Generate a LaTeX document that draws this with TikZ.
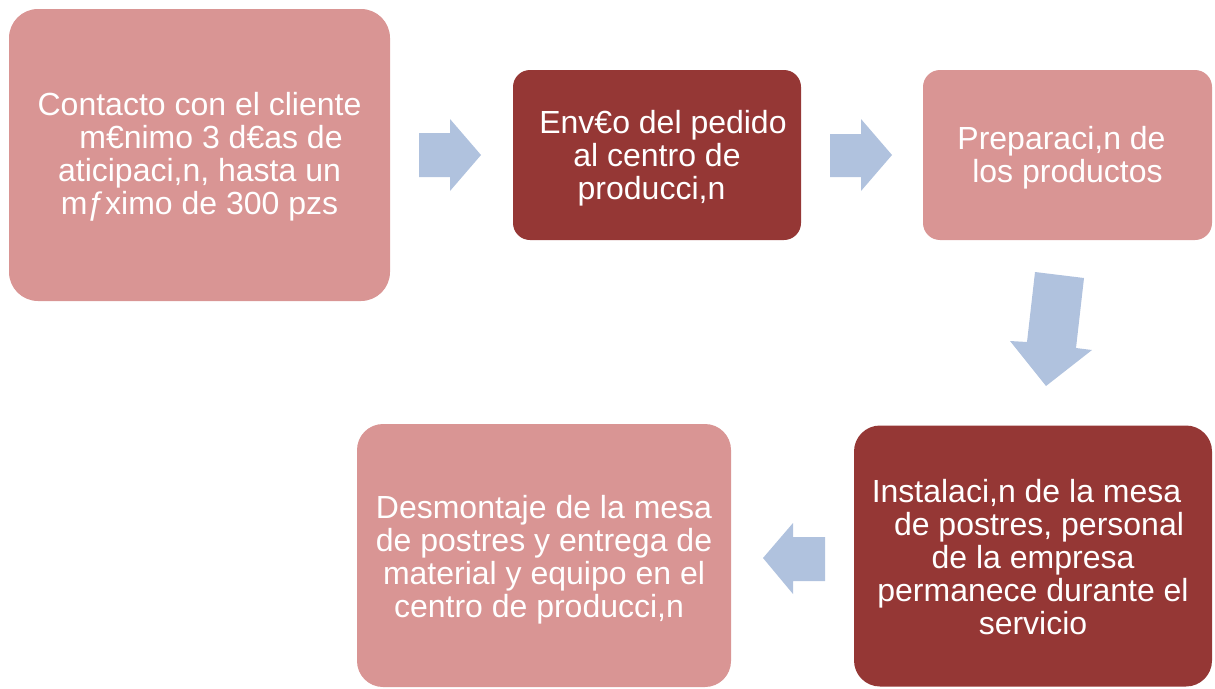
\documentclass[tikz,border=0pt]{standalone}
\usepackage{fontspec}
\setmainfont{Liberation Sans}
\definecolor{boxpink}{HTML}{D99594}
\definecolor{boxred}{HTML}{953735}
\definecolor{arrowblue}{HTML}{B0C2DE}
\begin{document}
\begin{tikzpicture}[x=1pt,y=-1pt,
  procbox/.style={rectangle, inner sep=0pt, draw=none},
  proctext/.style={inner sep=0pt, text=white, align=center,
    font=\fontsize{32}{33}\selectfont},
  flowarrow/.style={fill=arrowblue, draw=none}]
\useasboundingbox (0,0) rectangle (1215,688);

% process boxes
\node[procbox, fill=boxpink, rounded corners=29pt, minimum width=381pt, minimum height=292pt]
  (contacto) at (199.5,155) {};
\node[procbox, fill=boxred, rounded corners=17pt, minimum width=288pt, minimum height=170pt]
  (envio) at (657,155) {};
\node[procbox, fill=boxpink, rounded corners=17pt, minimum width=289pt, minimum height=170pt]
  (prep) at (1067.5,155) {};
\node[procbox, fill=boxred, rounded corners=26pt, minimum width=358pt, minimum height=261pt]
  (inst) at (1033,556) {};
\node[procbox, fill=boxpink, rounded corners=26pt, minimum width=374pt, minimum height=263pt]
  (desm) at (544,555.5) {};

% texts
\node[proctext] (contacto-t) at ([yshift=-2pt]contacto.center)
  {Contacto con el cliente\\ \hspace*{23pt}m€nimo 3 d€as de\\ aticipaci,n, hasta un\hspace*{12pt}\\ mƒximo de 300 pzs};
\node[proctext] (envio-t) at ([yshift=-3pt]envio.center)
  {\hspace*{12pt}Env€o del pedido\\ al centro de\\ producci,n\hspace*{11pt}};
\node[proctext] (prep-t) at ([yshift=-2.5pt]prep.center)
  {Preparaci,n de\hspace*{12pt}\\ los productos};
\node[proctext] (inst-t) at ([yshift=-1.5pt]inst.center)
  {Instalaci,n de la mesa\hspace*{13pt}\\ \hspace*{12pt}de postres, personal\\ de la empresa\\ permanece durante el\\ servicio};
\node[proctext] (desm-t) at ([yshift=-4pt]desm.center)
  {Desmontaje de la mesa\\ de postres y entrega de\\ material y equipo en el\\ centro de producci,n\hspace*{10pt}};

% block arrows
\fill[flowarrow] (419,133) -- (450,133) -- (450,119) -- (481,155) -- (450,191) -- (450,177) -- (419,177) -- cycle;
\fill[flowarrow] (830,134) -- (861,134) -- (861,119) -- (892,155) -- (861,191) -- (861,177) -- (830,177) -- cycle;
\fill[flowarrow] (1035,272) -- (1084,278) -- (1076,348) -- (1092,350) -- (1046,386) -- (1010,341) -- (1027,342) -- cycle;
\fill[flowarrow] (825,537) -- (793,537) -- (793,523) -- (763,558) -- (793,594) -- (793,581) -- (825,581) -- cycle;
\end{tikzpicture}
\end{document}
